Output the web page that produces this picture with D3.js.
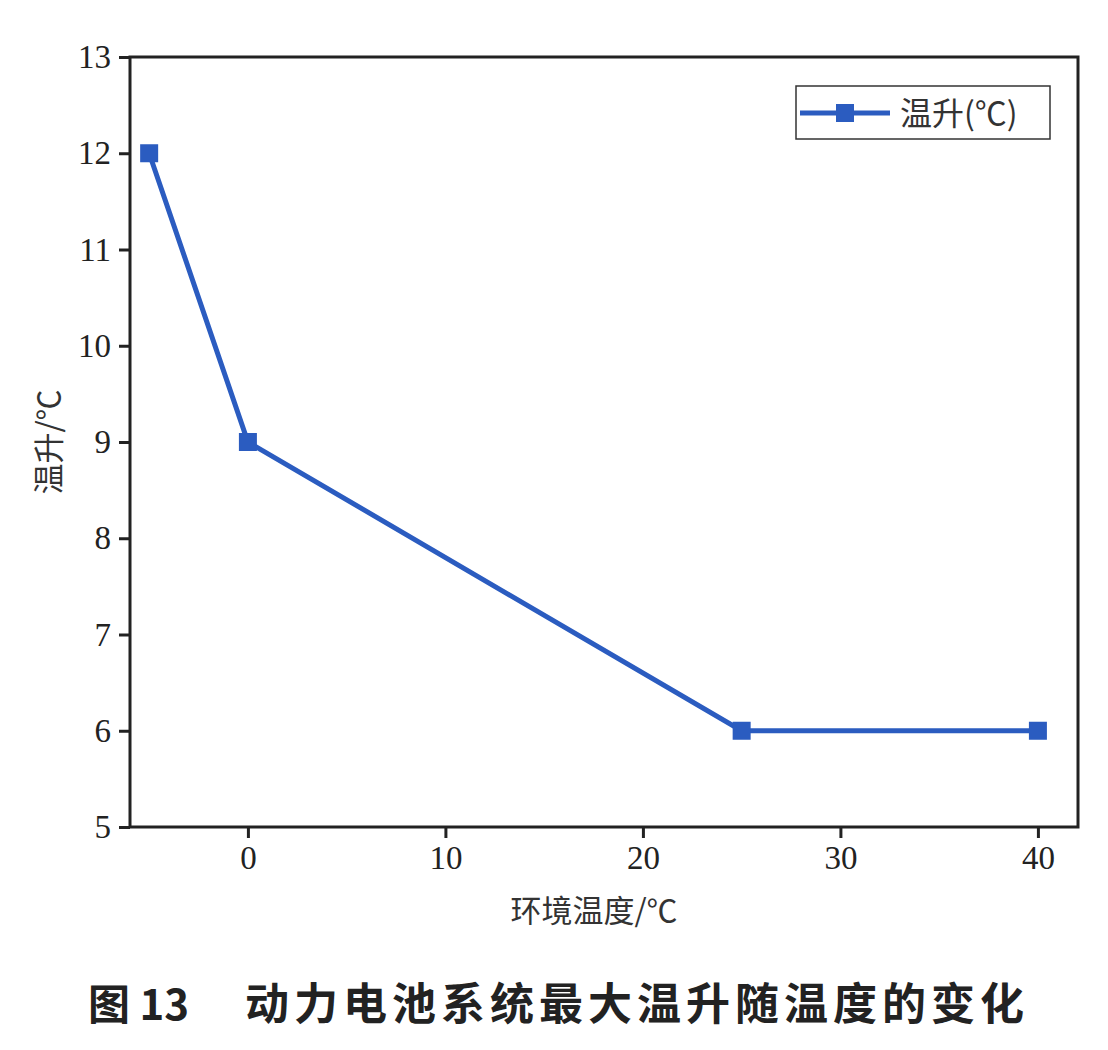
<!DOCTYPE html>
<html><head><meta charset="utf-8">
<script src="https://cdn.jsdelivr.net/npm/d3@7"></script>
<style>body{margin:0;background:#fff}</style></head>
<body><svg id="c" width="1108" height="1050"></svg>
<script>
const temps = [-5, 0, 25, 40];
const rises = [12, 9, 6, 6];
const xTicks = [0, 10, 20, 30, 40];
const yTicks = [5, 6, 7, 8, 9, 10, 11, 12, 13];
const seriesName = "温升(℃)";
const xTitle = "环境温度/℃";
const yTitle = "温升/℃";
const captionNum = "图 13";
const caption = "动力电池系统最大温升随温度的变化";

const svg = d3.select("#c");
const L = 130, R = 1078, T = 57, B = 827;
const color = "#2b5cc0";
const serif = "'Liberation Serif','Times New Roman',serif";
const x = d3.scaleLinear().domain([-5.97, 42.03]).range([L, R]);
const y = d3.scaleLinear().domain([5, 13]).range([B, T]);

svg.append("rect").attr("x", L).attr("y", T).attr("width", R - L).attr("height", B - T)
  .attr("fill", "none").attr("stroke", "#222").attr("stroke-width", 3);

const xa = svg.append("g").attr("transform", `translate(0,${B})`)
  .call(d3.axisBottom(x).tickValues(xTicks).tickSize(11).tickPadding(8));
const ya = svg.append("g").attr("transform", `translate(${L},0)`)
  .call(d3.axisLeft(y).tickValues(yTicks).tickSize(11).tickPadding(8));
[xa, ya].forEach(a => {
  a.select(".domain").remove();
  a.selectAll("line").attr("stroke", "#222").attr("stroke-width", 3);
  a.selectAll("text").attr("font-family", serif).attr("font-size", 33).attr("fill", "#222");
});

svg.append("path").datum(temps.map((t, i) => [t, rises[i]]))
  .attr("d", d3.line().x(d => x(d[0])).y(d => y(d[1])))
  .attr("fill", "none").attr("stroke", color).attr("stroke-width", 5);
svg.selectAll("rect.pt").data(temps).join("rect").attr("class", "pt")
  .attr("x", (d) => x(d) - 9).attr("y", (d, i) => y(rises[i]) - 9)
  .attr("width", 18).attr("height", 18).attr("fill", color);

svg.append("text").attr("x", (L + R) / 2 - 10).attr("y", 922).attr("text-anchor", "middle")
  .attr("font-family", "'Noto Sans CJK SC'").attr("font-size", 31).attr("fill", "#333").text(xTitle);
svg.append("text").attr("transform", `translate(60,${(T + B) / 2}) rotate(-90)`).attr("text-anchor", "middle")
  .attr("font-family", "'Noto Sans CJK SC'").attr("font-size", 31).attr("fill", "#333").text(yTitle);

const lg = svg.append("g");
lg.append("rect").attr("x", 796).attr("y", 86).attr("width", 254).attr("height", 53)
  .attr("fill", "#fff").attr("stroke", "#333").attr("stroke-width", 1.5);
lg.append("line").attr("x1", 800).attr("x2", 890).attr("y1", 113).attr("y2", 113)
  .attr("stroke", color).attr("stroke-width", 5);
lg.append("rect").attr("x", 836).attr("y", 104).attr("width", 18).attr("height", 18).attr("fill", color);
lg.append("text").attr("x", 900).attr("y", 125).attr("font-family", "'Noto Sans CJK SC'")
  .attr("font-size", 32).attr("fill", "#333").text(seriesName);

svg.append("text").attr("x", 88).attr("y", 1020).attr("font-family", "'Noto Sans CJK SC'")
  .attr("font-weight", "bold").attr("font-size", 42).attr("fill", "#222").text(captionNum);
svg.append("text").attr("x", 245).attr("y", 1020).attr("font-family", "'Noto Sans CJK SC'")
  .attr("font-weight", "bold").attr("font-size", 44).attr("letter-spacing", 5).attr("fill", "#222").text(caption);
</script></body></html>
